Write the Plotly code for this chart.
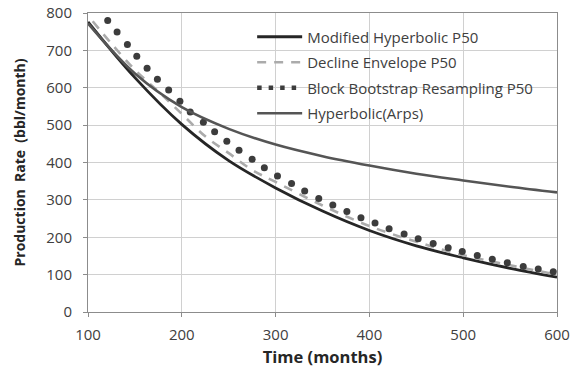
import plotly.graph_objects as go

# Modified Hyperbolic P50
t_mh = [100, 150, 200, 250, 300, 350, 400, 450, 500, 550, 600]
q_mh = [776, 627, 502, 405, 332, 270, 218, 177, 145, 117, 93]

# Decline Envelope P50
t_de = [105, 125, 150, 175, 200, 225, 250, 275, 300, 350, 400, 450, 500, 550, 600]
q_de = [778, 718, 648, 590, 530, 470, 425, 380, 348, 285, 230, 188, 152, 125, 100]

# Block Bootstrap Resampling P50 (dots)
t_bb = [121, 131, 142, 152, 163, 174, 186, 198, 209, 223, 235, 248, 261, 275, 288,
        302, 317, 331, 346, 361, 376, 391, 406, 421, 437, 452, 468, 484, 499, 515,
        531, 547, 564, 580, 596]
q_bb = [780, 749, 716, 684, 652, 623, 594, 564, 535, 508, 482, 457, 433, 409, 386,
        364, 344, 324, 304, 286, 269, 252, 238, 223, 209, 196, 183, 172, 162, 151,
        141, 132, 122, 115, 108]

# Hyperbolic (Arps)
t_ar = [100, 150, 200, 250, 300, 350, 400, 450, 500, 550, 600]
q_ar = [772, 638, 548, 490, 448, 417, 392, 370, 352, 335, 320]

names = ["Modified Hyperbolic P50", "Decline Envelope P50",
         "Block Bootstrap Resampling P50", "Hyperbolic(Arps)"]

FONT = "Open Sans"
fig = go.Figure()
fig.add_trace(go.Scatter(x=t_mh, y=q_mh, mode="lines", name=names[0], legendgroup="a",
                         line=dict(color="#262626", width=2.8, shape="spline")))
fig.add_trace(go.Scatter(x=t_de, y=q_de, mode="lines", name=names[1], legendgroup="b",
                         line=dict(color="#ababab", width=2.6, dash="9px,8px", shape="spline")))
fig.add_trace(go.Scatter(x=t_bb, y=q_bb, mode="markers", name=names[2], showlegend=False,
                         marker=dict(color="#3c3c3c", size=7)))
fig.add_trace(go.Scatter(x=[None], y=[None], mode="lines", name=names[2], legendgroup="c",
                         line=dict(color="#3c3c3c", width=4.5, dash="4.5px,7px")))
fig.add_trace(go.Scatter(x=t_ar, y=q_ar, mode="lines", name=names[3], legendgroup="d",
                         line=dict(color="#555555", width=2.6, shape="spline")))

fig.update_layout(
    width=576, height=372,
    margin=dict(l=88, r=19, t=13, b=60, autoexpand=False),
    paper_bgcolor="white", plot_bgcolor="white",
    font=dict(family=FONT, size=12, color="#404040"),
    showlegend=True,
    legend=dict(x=0.35, y=0.975, xanchor="left", yanchor="top",
                bgcolor="rgba(0,0,0,0)", borderwidth=0,
                font=dict(family=FONT, size=15, color="#404040"),
                traceorder="grouped", tracegroupgap=3, itemwidth=45),
    xaxis=dict(range=[100, 600], dtick=100, tick0=100,
               showgrid=True, gridcolor="#d0d0d0", gridwidth=1,
               showline=True, linecolor="#8c8c8c", linewidth=1, mirror=True,
               ticks="outside", ticklen=4, tickcolor="#8c8c8c",
               ticklabelstandoff=5,
               tickfont=dict(family=FONT, size=15, color="#404040"),
               title=dict(text="<b>Time (months)</b>", standoff=8,
                          font=dict(family=FONT, size=16.5, color="#262626")),
               zeroline=False),
    yaxis=dict(range=[0, 800], dtick=100, tick0=0,
               showgrid=True, gridcolor="#d0d0d0", gridwidth=1,
               showline=True, linecolor="#8c8c8c", linewidth=1, mirror=True,
               ticks="outside", ticklen=4, tickcolor="#8c8c8c",
               ticklabelstandoff=8,
               tickfont=dict(family=FONT, size=15, color="#404040"),
               title=dict(text="<b>Production  Rate  (bbl/month)</b>", standoff=17,
                          font=dict(family=FONT, size=14, color="#262626")),
               zeroline=False),
)

fig.write_html("out.html")
